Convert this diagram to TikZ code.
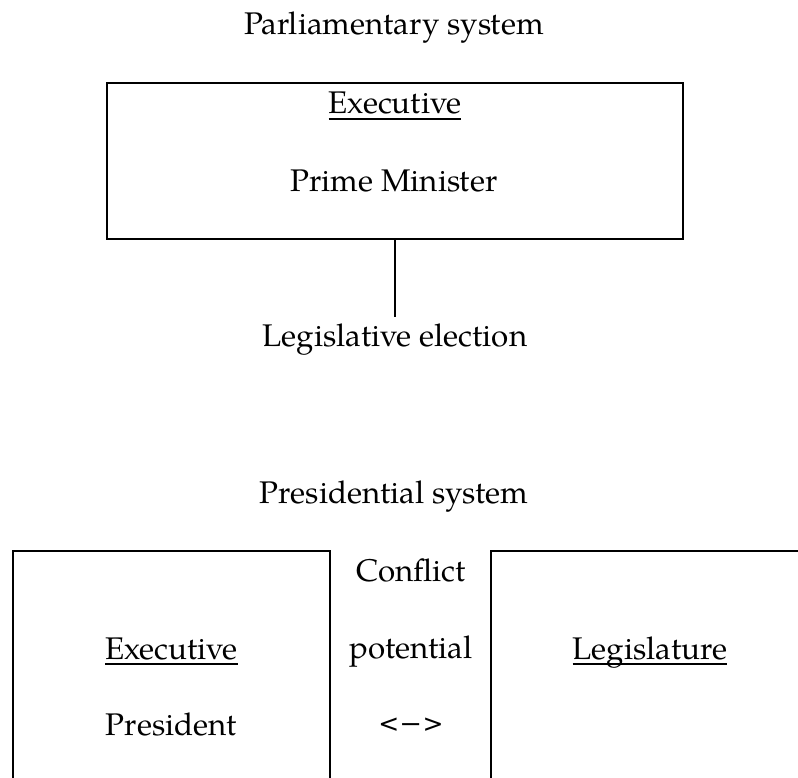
\documentclass[tikz,border=0pt]{standalone}
\usepackage{fontspec}
\setmainfont{TeX Gyre Pagella}
\newfontfamily\arrowfont{DejaVu Sans}
\newcommand\ulx[1]{\setbox0\hbox{#1}\rlap{\rule[-5.7pt]{\wd0}{2pt}}\box0}
\begin{document}
\begin{tikzpicture}[x=1pt,y=-1pt,
  txt/.style={anchor=base,inner sep=0pt,font=\fontsize{31.3}{36}\selectfont},
  frame/.style={draw,line width=2.4pt},
  conn/.style={line width=2.4pt}]
\clip (0,0) rectangle (798,778);
% Parliamentary system
\node[txt] (t1) at (394,35) {Parliamentary system};
\node[frame,minimum width=576pt,minimum height=156pt,inner sep=0pt] (pbox) at (395,161) {};
\node[txt] (pexec) at (395,114) {\ulx{Executive}};
\node[txt] (pm) at (394,191.7) {Prime Minister};
\coordinate (lend) at (395,316.7);
\node[txt] (le) at (395,346.7) {Legislative election};
\draw[conn] (pbox.south) -- (lend);
% Presidential system
\node[txt] (t2) at (394,503) {Presidential system};
\node[frame,minimum width=317pt,minimum height=300pt,inner sep=0pt] (ebox) at (171.5,701) {};
\node[frame,minimum width=330pt,minimum height=300pt,inner sep=0pt] (lbox) at (656,701) {};
\node[txt] (eexec) at (171.5,659) {\ulx{Executive}};
\node[txt] (pres) at (171.5,735) {President};
\node[txt] (c1) at (411,581) {Conflict};
\node[txt] (c2) at (411,658) {potential};
\node[anchor=base,inner sep=0pt,font=\arrowfont\fontsize{25}{30}\selectfont] (c3) at (411,732) {<\kern1pt\scalebox{1.7}[1.15]{–}\kern1pt>};
\node[txt] (leg) at (650,659) {\ulx{Legislature}};
\end{tikzpicture}
\end{document}
